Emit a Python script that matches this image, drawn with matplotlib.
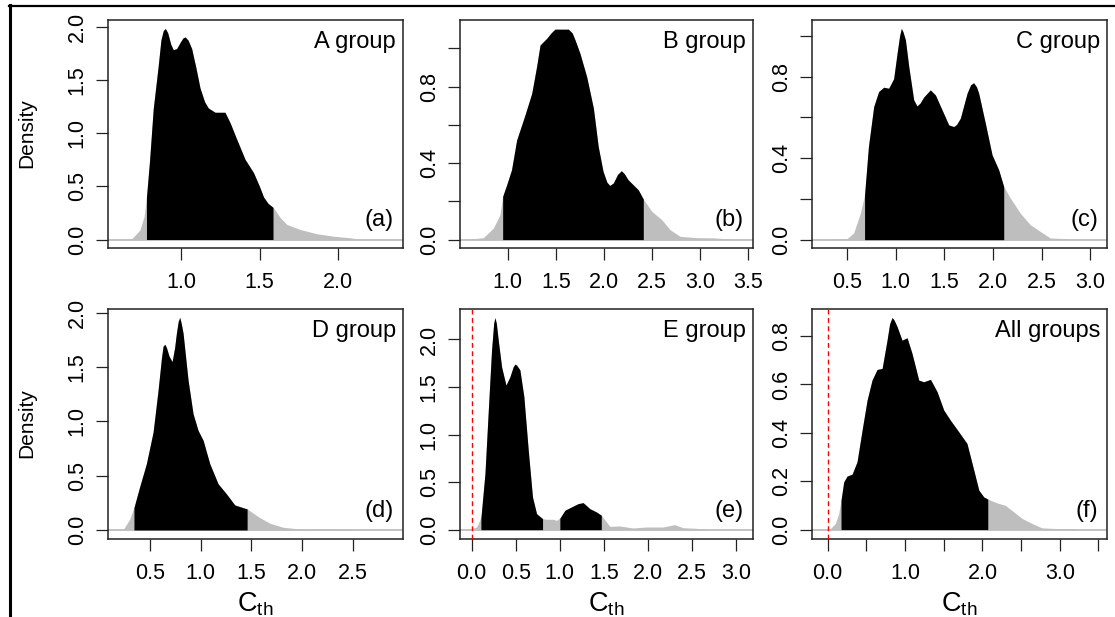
import numpy as np
import matplotlib
matplotlib.use("Agg")
import matplotlib.pyplot as plt
from matplotlib.lines import Line2D

plt.rcParams["font.family"] = ["Liberation Sans", "DejaVu Sans"]
plt.rcParams["mathtext.fontset"] = "custom"
plt.rcParams["mathtext.rm"] = "Liberation Sans"

# density curves (x = Cth, y = density)
a_x = [0.55, 0.685, 0.738, 0.765, 0.78, 0.80, 0.823, 0.855, 0.872, 0.887, 0.900, 0.915,
       0.935, 0.951, 0.972, 0.995, 1.012, 1.026, 1.045, 1.068, 1.095, 1.121, 1.15, 1.174,
       1.217, 1.28, 1.313, 1.355, 1.408, 1.462, 1.50, 1.526, 1.555, 1.589, 1.63, 1.674,
       1.76, 1.866, 1.972, 2.079, 2.14, 2.2]
a_y = [0.0, 0.005, 0.09, 0.22, 0.40, 0.75, 1.23, 1.64, 1.88, 1.97, 1.99, 1.95,
       1.84, 1.79, 1.80, 1.86, 1.90, 1.91, 1.88, 1.80, 1.62, 1.43, 1.30, 1.24,
       1.20, 1.20, 1.10, 0.945, 0.756, 0.63, 0.50, 0.40, 0.34, 0.30, 0.21, 0.142,
       0.094, 0.054, 0.031, 0.016, 0.003, 0.0]

b_x = [0.55, 0.747, 0.851, 0.92, 0.948, 0.99, 1.04, 1.093, 1.18, 1.25, 1.30, 1.336,
       1.405, 1.45, 1.49, 1.56, 1.63, 1.67, 1.70, 1.75, 1.82, 1.89, 1.94, 1.99, 2.03,
       2.06, 2.097, 2.14, 2.18, 2.21, 2.25, 2.356, 2.408, 2.495, 2.60, 2.685, 2.79,
       2.96, 3.135, 3.31, 3.34]
b_y = [0.0, 0.01, 0.06, 0.13, 0.226, 0.287, 0.365, 0.52, 0.652, 0.765, 0.904, 1.017,
       1.052, 1.08, 1.10, 1.10, 1.10, 1.08, 1.043, 0.974, 0.852, 0.687, 0.487, 0.357,
       0.30, 0.283, 0.296, 0.34, 0.36, 0.345, 0.313, 0.26, 0.212, 0.148, 0.104, 0.052,
       0.017, 0.01, 0.009, 0.003, 0.0]

c_x = [0.2, 0.5, 0.568, 0.637, 0.68, 0.72, 0.774, 0.825, 0.877, 0.928, 0.979, 1.014,
       1.04, 1.058, 1.075, 1.1, 1.134, 1.185, 1.219, 1.25, 1.288, 1.356, 1.408, 1.476,
       1.545, 1.596, 1.625, 1.664, 1.733, 1.77, 1.801, 1.83, 1.853, 1.921, 1.99, 2.058,
       2.11, 2.178, 2.28, 2.383, 2.486, 2.589, 2.76, 2.79]
c_y = [0.0, 0.005, 0.033, 0.13, 0.22, 0.457, 0.653, 0.727, 0.748, 0.743, 0.79, 0.914,
       1.00, 1.037, 1.02, 0.98, 0.85, 0.686, 0.656, 0.67, 0.70, 0.735, 0.71, 0.637,
       0.563, 0.555, 0.565, 0.596, 0.718, 0.76, 0.77, 0.75, 0.718, 0.571, 0.416, 0.343,
       0.26, 0.204, 0.13, 0.073, 0.04, 0.008, 0.005, 0.0]

d_x = [0.15, 0.244, 0.303, 0.346, 0.40, 0.467, 0.533, 0.582, 0.615, 0.631, 0.648, 0.664,
       0.69, 0.72, 0.745, 0.762, 0.78, 0.795, 0.81, 0.828, 0.877, 0.926, 0.975, 1.025,
       1.09, 1.172, 1.254, 1.336, 1.402, 1.457, 1.566, 1.68, 1.81, 1.975, 2.303, 2.5,
       2.516]
d_y = [0.0, 0.01, 0.10, 0.21, 0.394, 0.61, 0.90, 1.286, 1.58, 1.69, 1.71, 1.68,
       1.60, 1.55, 1.68, 1.81, 1.92, 1.957, 1.90, 1.81, 1.378, 1.07, 0.917, 0.825,
       0.61, 0.425, 0.332, 0.23, 0.21, 0.194, 0.123, 0.062, 0.025, 0.009, 0.006, 0.005,
       0.0]

e_x = [-0.05, 0.057, 0.106, 0.151, 0.189, 0.226, 0.25, 0.264, 0.28, 0.302, 0.34, 0.389,
       0.434, 0.47, 0.49, 0.51, 0.547, 0.592, 0.642, 0.69, 0.736, 0.804, 0.849, 0.925,
       0.962, 1.004, 1.057, 1.132, 1.208, 1.264, 1.34, 1.415, 1.472, 1.566, 1.68, 1.83,
       1.98, 2.17, 2.30, 2.396, 2.547, 2.64, 2.66]
e_y = [0.0, 0.028, 0.133, 0.59, 1.256, 1.89, 2.17, 2.23, 2.17, 1.99, 1.71, 1.52,
       1.607, 1.71, 1.74, 1.73, 1.68, 1.40, 0.835, 0.344, 0.168, 0.116, 0.109, 0.109,
       0.098, 0.126, 0.204, 0.239, 0.274, 0.284, 0.221, 0.186, 0.151, 0.035, 0.039, 0.018,
       0.028, 0.028, 0.053, 0.021, 0.014, 0.007, 0.0]

f_x = [-0.1, 0.034, 0.099, 0.142, 0.172, 0.207, 0.25, 0.315, 0.379, 0.444, 0.509,
       0.573, 0.638, 0.703, 0.767, 0.80, 0.832, 0.86, 0.897, 0.961, 1.026, 1.09, 1.177,
       1.241, 1.328, 1.414, 1.50, 1.586, 1.694, 1.80, 1.888, 1.953, 2.017, 2.069, 2.19,
       2.297, 2.405, 2.513, 2.642, 2.771, 2.966, 3.203, 3.22]
f_y = [0.0, 0.004, 0.025, 0.066, 0.121, 0.197, 0.221, 0.229, 0.28, 0.41, 0.535,
       0.618, 0.662, 0.666, 0.783, 0.85, 0.877, 0.865, 0.839, 0.783, 0.793, 0.728, 0.618,
       0.611, 0.621, 0.57, 0.494, 0.452, 0.404, 0.356, 0.246, 0.163, 0.135, 0.126, 0.11,
       0.10, 0.073, 0.046, 0.025, 0.007, 0.004, 0.004, 0.0]

# intervals shaded black
a_black = [(0.78, 1.586)]
b_black = [(0.948, 2.408)]
c_black = [(0.68, 2.11)]
d_black = [(0.345, 1.457)]
e_black = [(0.105, 0.804), (1.0, 1.47)]
f_black = [(0.172, 2.069)]

group_names = ["A group", "B group", "C group", "D group", "E group", "All groups"]
panel_tags = ["(a)", "(b)", "(c)", "(d)", "(e)", "(f)"]

# x ticks / labelled x ticks / y ticks / labelled y ticks
a_xt, a_xl = [1.0, 1.5, 2.0], [1.0, 1.5, 2.0]
b_xt, b_xl = [1.0, 1.5, 2.0, 2.5, 3.0, 3.5], [1.0, 1.5, 2.0, 2.5, 3.0, 3.5]
c_xt, c_xl = [0.5, 1.0, 1.5, 2.0, 2.5, 3.0], [0.5, 1.0, 1.5, 2.0, 2.5, 3.0]
d_xt, d_xl = [0.5, 1.0, 1.5, 2.0, 2.5], [0.5, 1.0, 1.5, 2.0, 2.5]
e_xt, e_xl = [0.0, 0.5, 1.0, 1.5, 2.0, 2.5, 3.0], [0.0, 0.5, 1.0, 1.5, 2.0, 2.5, 3.0]
f_xt, f_xl = [0.0, 0.5, 1.0, 1.5, 2.0, 2.5, 3.0, 3.5], [0.0, 1.0, 2.0, 3.0]
a_yt, a_yl = [0.0, 0.5, 1.0, 1.5, 2.0], [0.0, 0.5, 1.0, 1.5, 2.0]
b_yt, b_yl = [0.0, 0.2, 0.4, 0.6, 0.8, 1.0], [0.0, 0.4, 0.8]
c_yt, c_yl = [0.0, 0.2, 0.4, 0.6, 0.8, 1.0], [0.0, 0.4, 0.8]
d_yt, d_yl = [0.0, 0.5, 1.0, 1.5, 2.0], [0.0, 0.5, 1.0, 1.5, 2.0]
e_yt, e_yl = [0.0, 0.5, 1.0, 1.5, 2.0], [0.0, 0.5, 1.0, 1.5, 2.0]
f_yt, f_yl = [0.0, 0.2, 0.4, 0.6, 0.8], [0.0, 0.2, 0.4, 0.6, 0.8]

W, H = 1115, 617
GREY = "#BEBEBE"

panels = [
    (a_x, a_y, a_black, a_xt, a_xl, a_yt, a_yl, (0.535, 2.414), (-0.08, 2.07), (108, 20, 403, 248)),
    (b_x, b_y, b_black, b_xt, b_xl, b_yt, b_yl, (0.505, 3.547), (-0.044, 1.148), (460, 20, 753, 248)),
    (c_x, c_y, c_black, c_xt, c_xl, c_yt, c_yl, (0.14, 3.171), (-0.041, 1.078), (812, 20, 1107, 248)),
    (d_x, d_y, d_black, d_xt, d_xl, d_yt, d_yl, (0.09, 2.989), (-0.083, 2.034), (108, 309, 403, 539)),
    (e_x, e_y, e_black, e_xt, e_xl, e_yt, e_yl, (-0.132, 3.19), (-0.098, 2.32), (460, 309, 753, 539)),
    (f_x, f_y, f_black, f_xt, f_xl, f_yt, f_yl, (-0.203, 3.61), (-0.039, 0.912), (812, 309, 1107, 539)),
]


def fmt(v):
    return f"{v:.1f}"


fig = plt.figure(figsize=(W / 100, H / 100), dpi=100)

for i, (xs, ys, black, xt, xl, yt, yl, xlim, ylim, box) in enumerate(panels):
    left, top, right, bottom = box
    ax = fig.add_axes([left / W, 1 - bottom / H, (right - left) / W, (bottom - top) / H])
    xs = np.array(xs)
    ys = np.array(ys)

    ax.axhline(0, color=GREY, lw=1.3, zorder=1)
    ax.fill_between(xs, 0, ys, color=GREY, lw=0, zorder=2)
    for lo, hi in black:
        inside = (xs > lo) & (xs < hi)
        bx = np.concatenate([[lo], xs[inside], [hi]])
        by = np.interp(bx, xs, ys)
        ax.fill_between(bx, 0, by, color="black", lw=0, zorder=3)

    if i >= 4:
        ax.axvline(0, color="red", lw=1.0, dashes=(3.5, 2.5), zorder=4)

    ax.set_xlim(*xlim)
    ax.set_ylim(*ylim)
    ax.set_xticks(xt)
    ax.set_xticklabels([fmt(v) if v in xl else "" for v in xt])
    ax.set_yticks(yt)
    ax.set_yticklabels([fmt(v) if v in yl else "" for v in yt])
    for lab in ax.get_yticklabels():
        lab.set_rotation(90)
        lab.set_va("center")

    ax.tick_params(axis="both", direction="out", length=8.6, width=0.9,
                   labelsize=15.5, color="#222222")
    ax.tick_params(axis="x", pad=8.5)
    ax.tick_params(axis="y", pad=6)
    for sp in ax.spines.values():
        sp.set_linewidth(1.1)
        sp.set_color("#222222")

    ax.text(1 - 7 / (right - left), 1 - 11 / (bottom - top), group_names[i],
            transform=ax.transAxes, ha="right", va="top", fontsize=17)
    ax.text(1 - 9 / (right - left), 28 / (bottom - top), panel_tags[i],
            transform=ax.transAxes, ha="right", va="center", fontsize=17)

    if i % 3 == 0:
        fig.text(27 / W, 1 - ((top + bottom) / 2 - 1) / H, "Density", rotation=90,
                 ha="center", va="center", fontsize=15)
    if i >= 3:
        fig.text((left + right) / 2 / W, 1 - 612 / H, r"$\mathregular{C_{th}}$",
                 ha="center", va="baseline", fontsize=19.5)

# outer frame (only left and top edges are in view)
fig.add_artist(Line2D([9.5 / W, 9.5 / W], [0, 1 - 5 / H], transform=fig.transFigure,
                      color="black", lw=2.2))
fig.add_artist(Line2D([8.5 / W, 1], [1 - 6 / H, 1 - 6 / H], transform=fig.transFigure,
                      color="black", lw=1.6))

fig.savefig("out.png", dpi=100)
